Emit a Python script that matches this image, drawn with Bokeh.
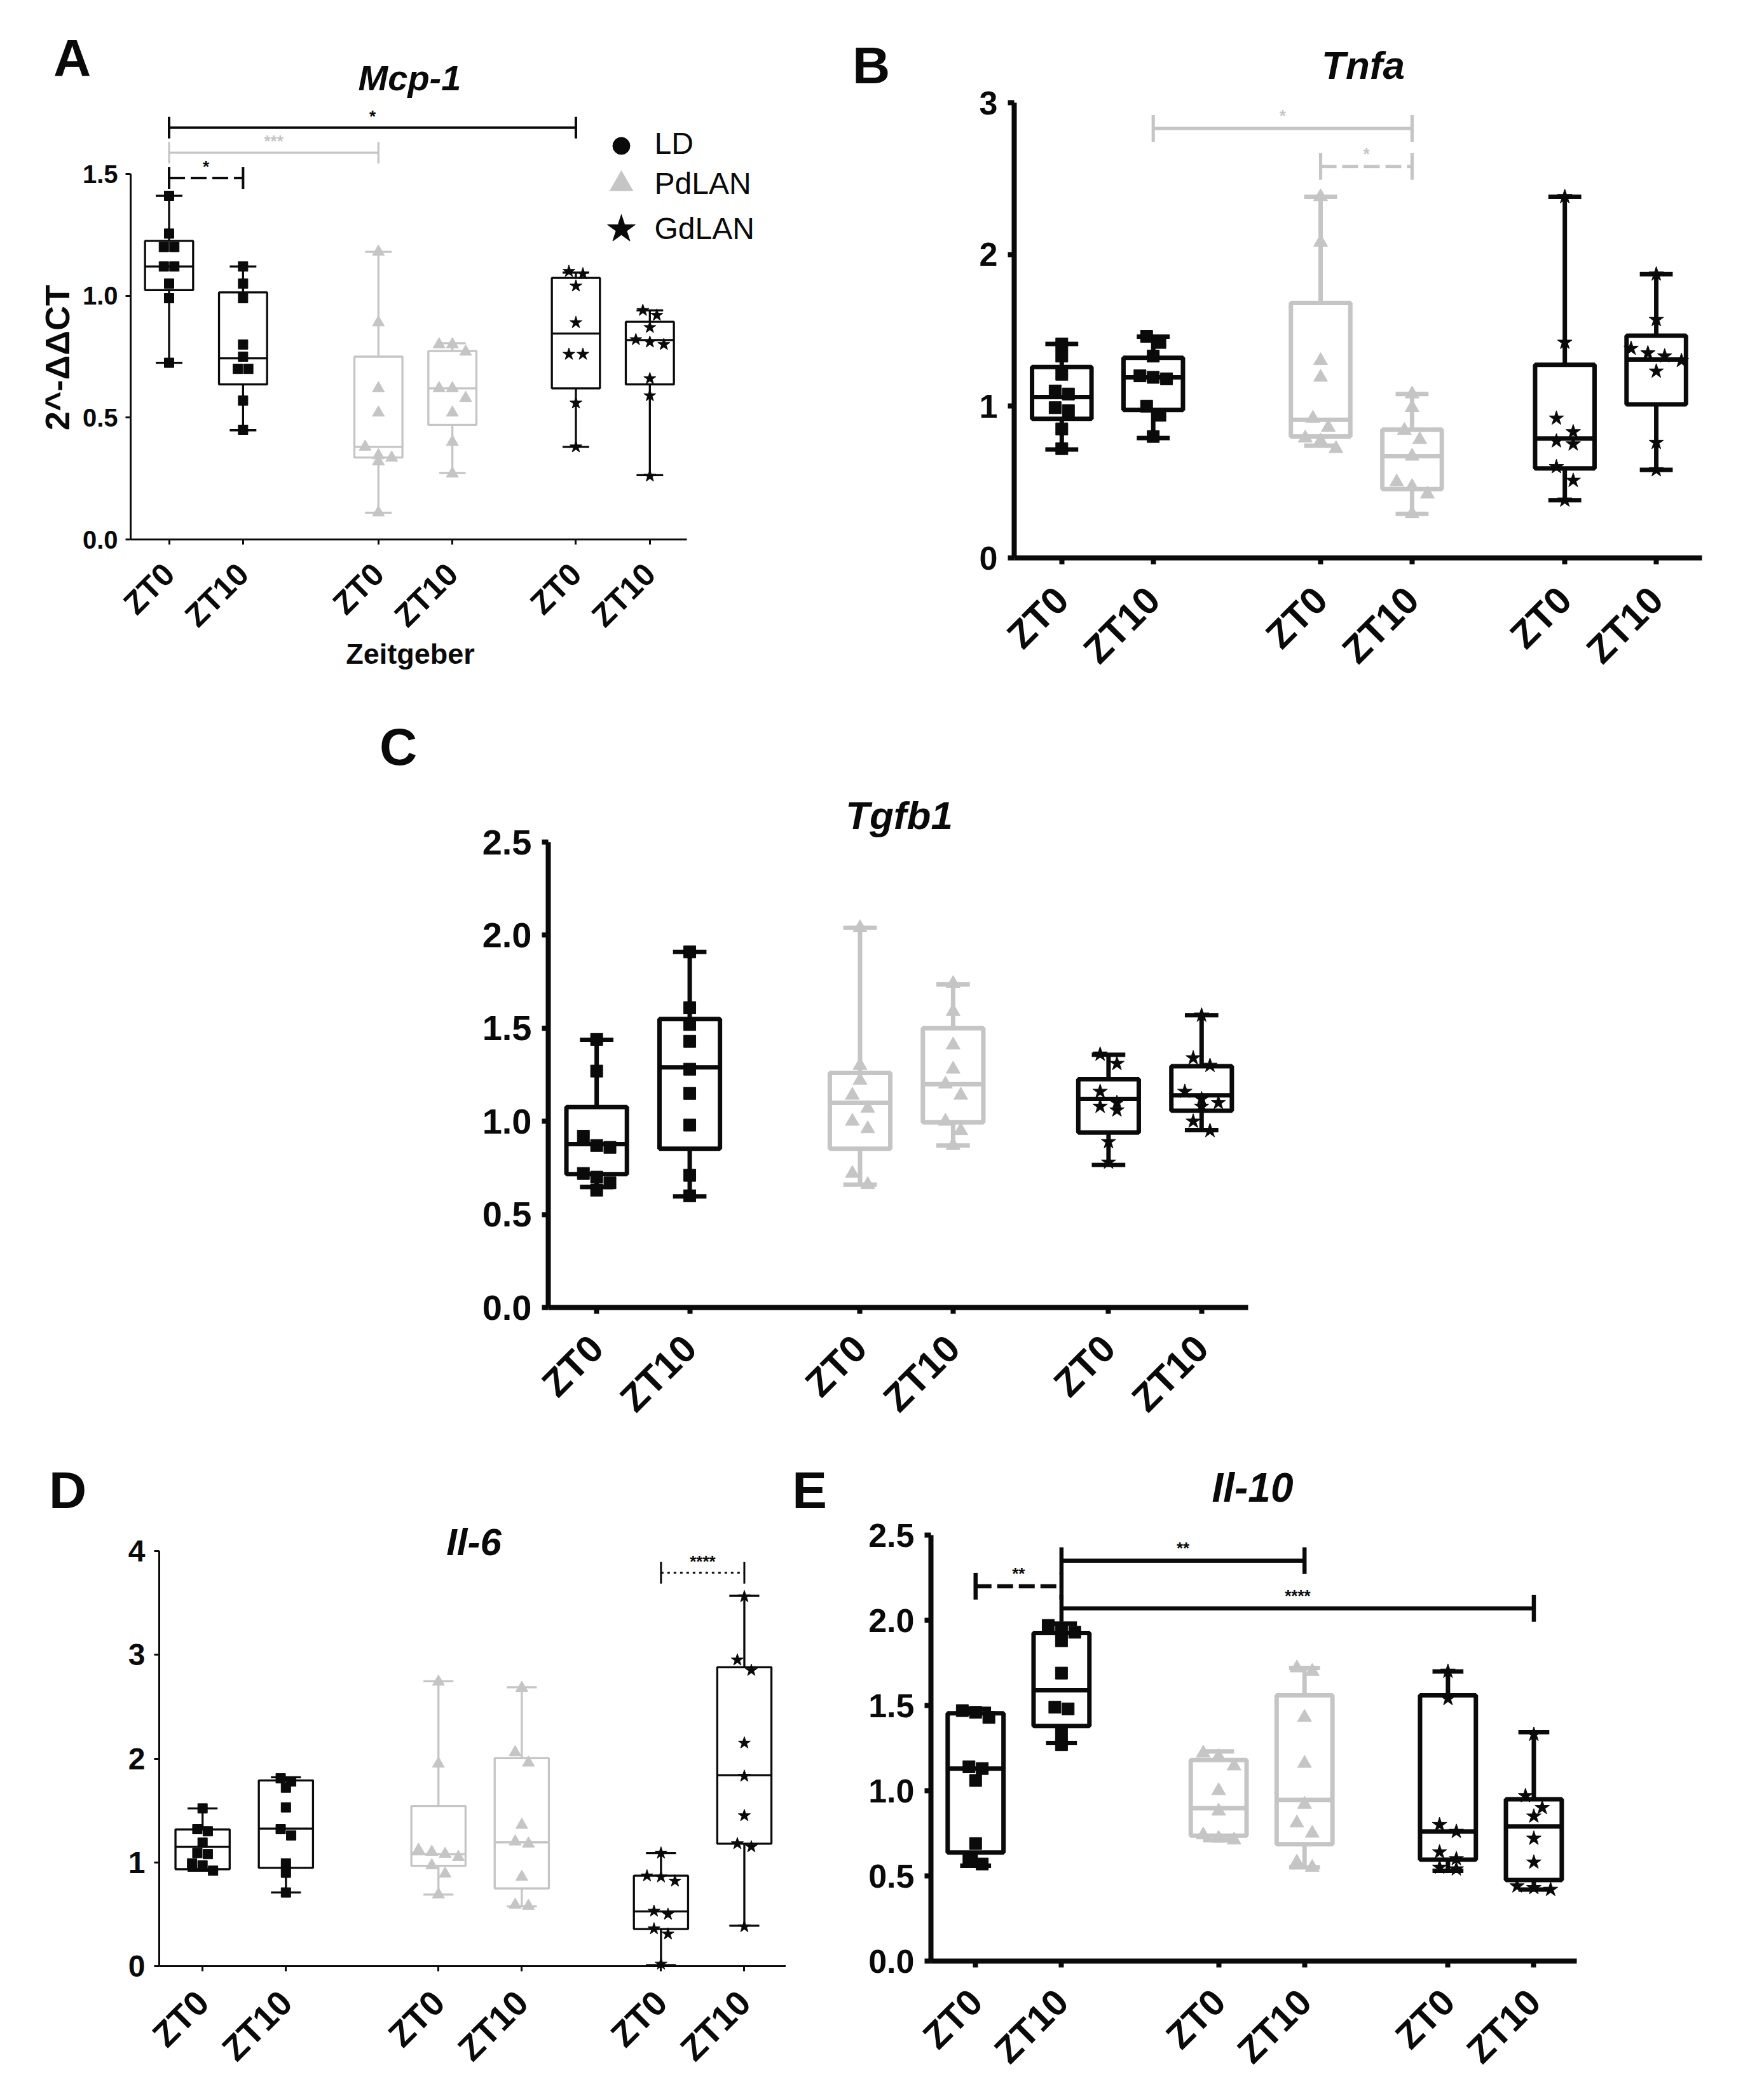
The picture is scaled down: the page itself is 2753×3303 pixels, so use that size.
import math
import numpy as np
from bokeh.plotting import figure
from bokeh.models import Range1d, FixedTicker, Label, Spacer
from bokeh.layouts import row, column
from bokeh.core.properties import value
from bokeh.embed import file_html
from bokeh.resources import INLINE

FONT = "Liberation Sans"
BLACK = "#0a0a0a"
GRAY = "#c5c5c5"

# ---------------- data ----------------
groups = ["LD", "LD", "PdLAN", "PdLAN", "GdLAN", "GdLAN"]
zt_labels = ["ZT0", "ZT10", "ZT0", "ZT10", "ZT0", "ZT10"]
legend_labels = ["LD", "PdLAN", "GdLAN"]

# Mcp-1
mcp1_max = [1.41, 1.12, 1.18, 0.805, 1.095, 0.94]
mcp1_q3 = [1.225, 1.014, 0.75, 0.773, 1.073, 0.893]
mcp1_med = [1.12, 0.743, 0.38, 0.62, 0.845, 0.818]
mcp1_q1 = [1.023, 0.636, 0.336, 0.47, 0.62, 0.636]
mcp1_min = [0.725, 0.448, 0.11, 0.273, 0.38, 0.264]
mcp1_points = [
    [1.41, 1.255, 1.20, 1.20, 1.12, 1.12, 1.05, 0.99, 0.725],
    [1.12, 1.05, 0.99, 0.80, 0.75, 0.70, 0.70, 0.57, 0.45],
    [1.18, 0.89, 0.62, 0.52, 0.38, 0.345, 0.335, 0.32, 0.11],
    [0.80, 0.80, 0.77, 0.62, 0.62, 0.58, 0.52, 0.40, 0.27],
    [1.10, 1.09, 1.04, 0.89, 0.76, 0.76, 0.56, 0.38],
    [0.94, 0.92, 0.87, 0.82, 0.81, 0.80, 0.66, 0.59, 0.26],
]
mcp1_yticks = [0, 0.5, 1.0, 1.5]
mcp1_yticklabels = ["0.0", "0.5", "1.0", "1.5"]
mcp1_brackets = [(0, 4, 1.69, "k", "solid", "*"),
                 (0, 2, 1.587, "g", "solid", "***"),
                 (0, 1, 1.483, "k", "dash", "*")]

# Tnfa
tnfa_max = [1.41, 1.458, 2.38, 1.08, 2.38, 1.87]
tnfa_q3 = [1.258, 1.319, 1.68, 0.845, 1.273, 1.464]
tnfa_med = [1.06, 1.19, 0.91, 0.67, 0.787, 1.307]
tnfa_q1 = [0.917, 0.975, 0.80, 0.454, 0.59, 1.012]
tnfa_min = [0.714, 0.79, 0.74, 0.29, 0.38, 0.58]
tnfa_points = [
    [1.41, 1.33, 1.21, 1.10, 1.08, 0.99, 0.97, 0.85, 0.72],
    [1.46, 1.42, 1.33, 1.20, 1.19, 1.18, 1.00, 0.94, 0.80],
    [2.38, 2.08, 1.30, 1.19, 0.92, 0.86, 0.79, 0.77, 0.72],
    [1.08, 0.99, 0.84, 0.78, 0.67, 0.50, 0.47, 0.42, 0.29],
    [2.38, 1.42, 0.92, 0.83, 0.77, 0.75, 0.60, 0.51, 0.38],
    [1.87, 1.57, 1.38, 1.35, 1.33, 1.30, 1.23, 0.76, 0.58],
]
tnfa_yticks = [0, 1, 2, 3]
tnfa_yticklabels = ["0", "1", "2", "3"]
tnfa_brackets = [(1, 3, 2.83, "g", "solid", "*"),
                 (2, 3, 2.58, "g", "dash", "*")]

# Tgfb1
tgfb1_max = [1.438, 1.91, 2.04, 1.736, 1.358, 1.57]
tgfb1_q3 = [1.077, 1.55, 1.26, 1.50, 1.226, 1.296]
tgfb1_med = [0.878, 1.29, 1.10, 1.20, 1.12, 1.14]
tgfb1_q1 = [0.716, 0.853, 0.853, 0.995, 0.94, 1.057]
tgfb1_min = [0.647, 0.597, 0.66, 0.87, 0.766, 0.953]
tgfb1_points = [
    [1.44, 1.27, 0.92, 0.87, 0.86, 0.72, 0.70, 0.67, 0.63],
    [1.91, 1.61, 1.52, 1.43, 1.28, 1.15, 0.98, 0.71, 0.60],
    [2.04, 1.30, 1.22, 1.14, 1.07, 1.00, 0.96, 0.72, 0.66],
    [1.74, 1.59, 1.41, 1.28, 1.20, 1.14, 1.00, 0.95, 0.87],
    [1.36, 1.31, 1.16, 1.10, 1.08, 1.06, 0.89, 0.78],
    [1.57, 1.34, 1.30, 1.16, 1.12, 1.10, 1.08, 1.00, 0.95],
]
tgfb1_yticks = [0, 0.5, 1.0, 1.5, 2.0, 2.5]
tgfb1_yticklabels = ["0.0", "0.5", "1.0", "1.5", "2.0", "2.5"]
tgfb1_brackets = []

# Il-6
il6_max = [1.52, 1.82, 2.745, 2.687, 1.09, 3.568]
il6_q3 = [1.317, 1.79, 1.543, 2.004, 0.872, 2.88]
il6_med = [1.15, 1.325, 1.078, 1.193, 0.527, 1.84]
il6_q1 = [0.934, 0.947, 0.967, 0.749, 0.358, 1.18]
il6_min = [0.92, 0.71, 0.69, 0.576, 0.01, 0.39]
il6_points = [
    [1.52, 1.32, 1.30, 1.19, 1.09, 1.08, 0.99, 0.97, 0.92],
    [1.81, 1.78, 1.72, 1.53, 1.32, 1.26, 0.99, 0.90, 0.71],
    [2.74, 1.95, 1.12, 1.10, 1.08, 1.05, 0.97, 0.89, 0.69],
    [2.68, 2.06, 1.96, 1.36, 1.20, 1.18, 0.86, 0.59, 0.58],
    [1.09, 0.87, 0.86, 0.82, 0.53, 0.50, 0.36, 0.31, 0.02],
    [3.56, 2.95, 2.85, 2.15, 1.83, 1.45, 1.18, 1.15, 0.38],
]
il6_yticks = [0, 1, 2, 3, 4]
il6_yticklabels = ["0", "1", "2", "3", "4"]
il6_brackets = [(4, 5, 3.79, "k", "dot", "****")]

# Il-10
il10_max = [1.48, 1.98, 1.23, 1.72, 1.70, 1.343]
il10_q3 = [1.454, 1.925, 1.18, 1.56, 1.56, 0.95]
il10_med = [1.13, 1.59, 0.897, 0.946, 0.76, 0.79]
il10_q1 = [0.637, 1.38, 0.736, 0.686, 0.595, 0.476]
il10_min = [0.56, 1.28, 0.71, 0.55, 0.53, 0.42]
il10_points = [
    [1.47, 1.46, 1.43, 1.14, 1.13, 1.06, 0.69, 0.59, 0.57],
    [1.97, 1.95, 1.93, 1.88, 1.69, 1.49, 1.48, 1.34, 1.27],
    [1.22, 1.20, 1.145, 1.00, 0.88, 0.74, 0.72, 0.71],
    [1.72, 1.70, 1.43, 1.16, 0.92, 0.81, 0.75, 0.58, 0.55],
    [1.70, 1.54, 0.80, 0.76, 0.64, 0.60, 0.55, 0.54],
    [1.33, 0.97, 0.90, 0.85, 0.72, 0.58, 0.44, 0.43, 0.42],
]
il10_yticks = [0, 0.5, 1.0, 1.5, 2.0, 2.5]
il10_yticklabels = ["0.0", "0.5", "1.0", "1.5", "2.0", "2.5"]
il10_brackets = [(0, 1, 2.20, "k", "dash", "**"),
                 (1, 3, 2.35, "k", "solid", "**"),
                 (1, 5, 2.07, "k", "solid", "****")]

# ---------------- layout / style (not data) ----------------
positions = [0, 1, 2.83, 3.83, 5.5, 6.5]
XMIN, XMAX = -0.52, 7.0
group_color = {"LD": BLACK, "PdLAN": GRAY, "GdLAN": BLACK}
group_marker = {"LD": "square", "PdLAN": "triangle", "GdLAN": "star"}
bracket_color = {"k": BLACK, "g": GRAY}
dash_pattern = {"solid": "solid", "dash": "25 9", "dot": "4 6"}

THIN = dict(alw=3, tick=8, blw=3.3, msize={"square": 15, "triangle": 19, "star": 20},
            blw_br=4, half=17, toff=18)
THICK = dict(alw=8, tick=10, blw=7, msize={"square": 19, "triangle": 22, "star": 24},
             blw_br=6.5, half=21, toff=20)


def swarm_offsets(vals, ppx, ppy, ms):
    vals = np.asarray(vals, dtype=float)
    order = np.argsort(-vals)
    thr = ms * 0.95 / ppy
    step = ms * 1.1 / ppx
    offs = np.zeros(len(vals))
    rows = []
    for i in order:
        if rows and abs(vals[rows[-1][0]] - vals[i]) < thr:
            rows[-1].append(i)
        else:
            rows.append([i])
    for r in rows:
        n = len(r)
        for k, i in enumerate(r):
            offs[i] = (k - (n - 1) / 2.0) * step
    return offs


def build(geo, st, pts, yticks, ytl, brs, sty, xfs, yfs, xso, yso, texts, legend=False):
    fx, fy, w, h = geo["fx"], geo["fy"], geo["w"], geo["h"]
    fl, fr, ft, fb, ymax = geo["fl"], geo["fr"], geo["ft"], geo["fb"], geo["ymax"]
    ppx = (fr - fl) / (XMAX - XMIN)
    ppy = (fb - ft) / ymax
    x_start = XMIN - (fl - fx) / ppx
    x_end = XMIN + (fx + w - fl) / ppx
    y_start = -(fy + h - fb) / ppy
    y_end = (fb - fy) / ppy

    def X(px):
        return XMIN + (px - fl) / ppx

    def Y(py):
        return (fb - py) / ppy

    p = figure(width=w, height=h, x_range=Range1d(x_start, x_end),
               y_range=Range1d(y_start, y_end),
               output_backend="svg", toolbar_location=None,
               min_border=0, min_border_left=0, min_border_right=0,
               min_border_top=0, min_border_bottom=0)
    p.outline_line_color = None
    p.grid.visible = False
    p.background_fill_color = "white"
    p.border_fill_color = "white"

    xa = p.xaxis[0]
    ya = p.yaxis[0]
    xa.fixed_location = 0
    ya.fixed_location = XMIN
    xa.bounds = (XMIN, XMAX)
    ya.bounds = (0, ymax)
    xa.ticker = FixedTicker(ticks=positions)
    xa.major_label_overrides = {float(x): l for x, l in zip(positions, zt_labels)}
    xa.major_label_orientation = math.pi / 4
    ya.ticker = FixedTicker(ticks=yticks)
    ya.major_label_overrides = {float(t): l for t, l in zip(yticks, ytl)}
    for ax in (xa, ya):
        ax.axis_line_width = sty["alw"]
        ax.axis_line_color = BLACK
        ax.major_tick_line_width = sty["alw"]
        ax.major_tick_line_color = BLACK
        ax.major_tick_in = 0
        ax.major_tick_out = sty["tick"]
        ax.minor_tick_line_color = None
        ax.major_label_text_font = FONT
        ax.major_label_text_font_style = "bold"
        ax.major_label_text_color = BLACK
    xa.major_label_text_font_size = f"{xfs}px"
    ya.major_label_text_font_size = f"{yfs}px"
    xa.major_label_standoff = xso
    ya.major_label_standoff = yso

    bw = 0.65
    cw = 0.36
    wmin, q1, med, q3, wmax = st
    for i, g in enumerate(groups):
        c = group_color[g]
        x = positions[i]
        lw = sty["blw"]
        p.segment(x0=[x, x], y0=[q3[i], q1[i]], x1=[x, x], y1=[wmax[i], wmin[i]],
                  line_color=c, line_width=lw)
        p.segment(x0=[x - cw / 2, x - cw / 2], y0=[wmax[i], wmin[i]],
                  x1=[x + cw / 2, x + cw / 2], y1=[wmax[i], wmin[i]],
                  line_color=c, line_width=lw)
        p.quad(left=[x - bw / 2], right=[x + bw / 2], bottom=[q1[i]], top=[q3[i]],
               fill_color="white", line_color=c, line_width=lw)
        p.segment(x0=[x - bw / 2], y0=[med[i]], x1=[x + bw / 2], y1=[med[i]],
                  line_color=c, line_width=lw)
        mk = group_marker[g]
        ms = sty["msize"][mk]
        offs = swarm_offsets(pts[i], ppx, ppy, ms)
        p.scatter(x=list(x + offs), y=pts[i], marker=mk, size=ms,
                  fill_color=c, line_color=c, line_width=1)

    for (i, j, y, ck, dk, txt) in brs:
        col = bracket_color[ck]
        x0, x1 = positions[i], positions[j]
        lwb = sty["blw_br"] if ck == "k" else sty["blw_br"] * 0.8
        if dk == "dot":
            lwb = sty["alw"]
        p.segment(x0=[x0], y0=[y], x1=[x1], y1=[y], line_color=col, line_width=lwb,
                  line_dash=dash_pattern[dk])
        hh = sty["half"] / ppy
        p.segment(x0=[x0, x1], y0=[y - hh, y - hh], x1=[x0, x1], y1=[y + hh, y + hh],
                  line_color=col, line_width=lwb)
        p.text(x=[(x0 + x1) / 2], y=[y + sty["toff"] / ppy], text=[txt],
               text_align="center", text_baseline="middle",
               text_font=value(FONT), text_font_size="26px", text_font_style="bold",
               text_color=col)

    for (txt, px, py, fs, style, angle) in texts:
        p.add_layout(Label(x=X(px), y=Y(py), text=txt, text_align="center",
                           text_baseline="middle", text_font=FONT,
                           text_font_size=f"{fs}px", text_font_style=style,
                           text_color=BLACK, angle=angle))

    if legend:
        mks = ["circle", "triangle", "star"]
        cols = [BLACK, GRAY, BLACK]
        sizes = [27, 36, 46]
        ys_m = [237, 297, 368]
        ys_t = [233, 296, 367]
        for lab, mk, c, s, ym, yt in zip(legend_labels, mks, cols, sizes, ys_m, ys_t):
            p.scatter(x=[X(985)], y=[Y(ym)], marker=mk, size=s, fill_color=c, line_color=c)
            p.text(x=[X(1037)], y=[Y(yt)], text=[lab], text_align="left",
                   text_baseline="middle", text_font=value(FONT),
                   text_font_size="48px", text_color=BLACK)
    return p


geoA = dict(fx=8, fy=8, w=1292, h=1092, fl=213, fr=1088, ft=281, fb=856, ymax=1.5)
geoB = dict(fx=1300, fy=8, w=1445, h=1092, fl=1603, fr=2685, ft=169, fb=885, ymax=3)
geoC = dict(fx=570, fy=1100, w=1530, h=1165, fl=870, fr=1971, ft=1332, fb=2064, ymax=2.5)
geoD = dict(fx=8, fy=2265, w=1236, h=1030, fl=258, fr=1244, ft=2447, fb=3100, ymax=4)
geoE = dict(fx=1244, fy=2265, w=1501, h=1030, fl=1472, fr=2488, ft=2422, fb=3092, ymax=2.5)

pA = build(geoA, (mcp1_min, mcp1_q1, mcp1_med, mcp1_q3, mcp1_max), mcp1_points,
           mcp1_yticks, mcp1_yticklabels, mcp1_brackets, THIN, 50, 40, 38, 12,
           [("A", 121, 98, 82, "bold", 0),
            ("Mcp-1", 652, 130, 56, "bold italic", 0),
            ("Zeitgeber", 653, 1036, 45, "bold", 0),
            ("2^-ΔΔCT", 97, 570, 54, "bold", math.pi / 2)], legend=True)
pB = build(geoB, (tnfa_min, tnfa_q1, tnfa_med, tnfa_q3, tnfa_max), tnfa_points,
           tnfa_yticks, tnfa_yticklabels, tnfa_brackets, THICK, 60, 52, 46, 16,
           [("B", 1378, 110, 82, "bold", 0),
            ("Tnfa", 2152, 110, 62, "bold italic", 0)])
pC = build(geoC, (tgfb1_min, tgfb1_q1, tgfb1_med, tgfb1_q3, tgfb1_max), tgfb1_points,
           tgfb1_yticks, tgfb1_yticklabels, tgfb1_brackets, THICK, 60, 56, 44, 16,
           [("C", 634, 1182, 82, "bold", 0),
            ("Tgfb1", 1422, 1290, 62, "bold italic", 0)])
pD = build(geoD, (il6_min, il6_q1, il6_med, il6_q3, il6_max), il6_points,
           il6_yticks, il6_yticklabels, il6_brackets, THIN, 55, 48, 40, 14,
           [("D", 114, 2351, 82, "bold", 0),
            ("Il-6", 753, 2433, 60, "bold italic", 0)])
pE = build(geoE, (il10_min, il10_q1, il10_med, il10_q3, il10_max), il10_points,
           il10_yticks, il10_yticklabels, il10_brackets, THICK, 58, 52, 44, 16,
           [("E", 1281, 2351, 82, "bold", 0),
            ("Il-10", 1978, 2347, 64, "bold italic", 0)])

layout = column(row(pA, pB),
                row(Spacer(width=562, height=1165), pC),
                row(pD, pE))

open("out.html", "w").write(file_html(layout, INLINE))
